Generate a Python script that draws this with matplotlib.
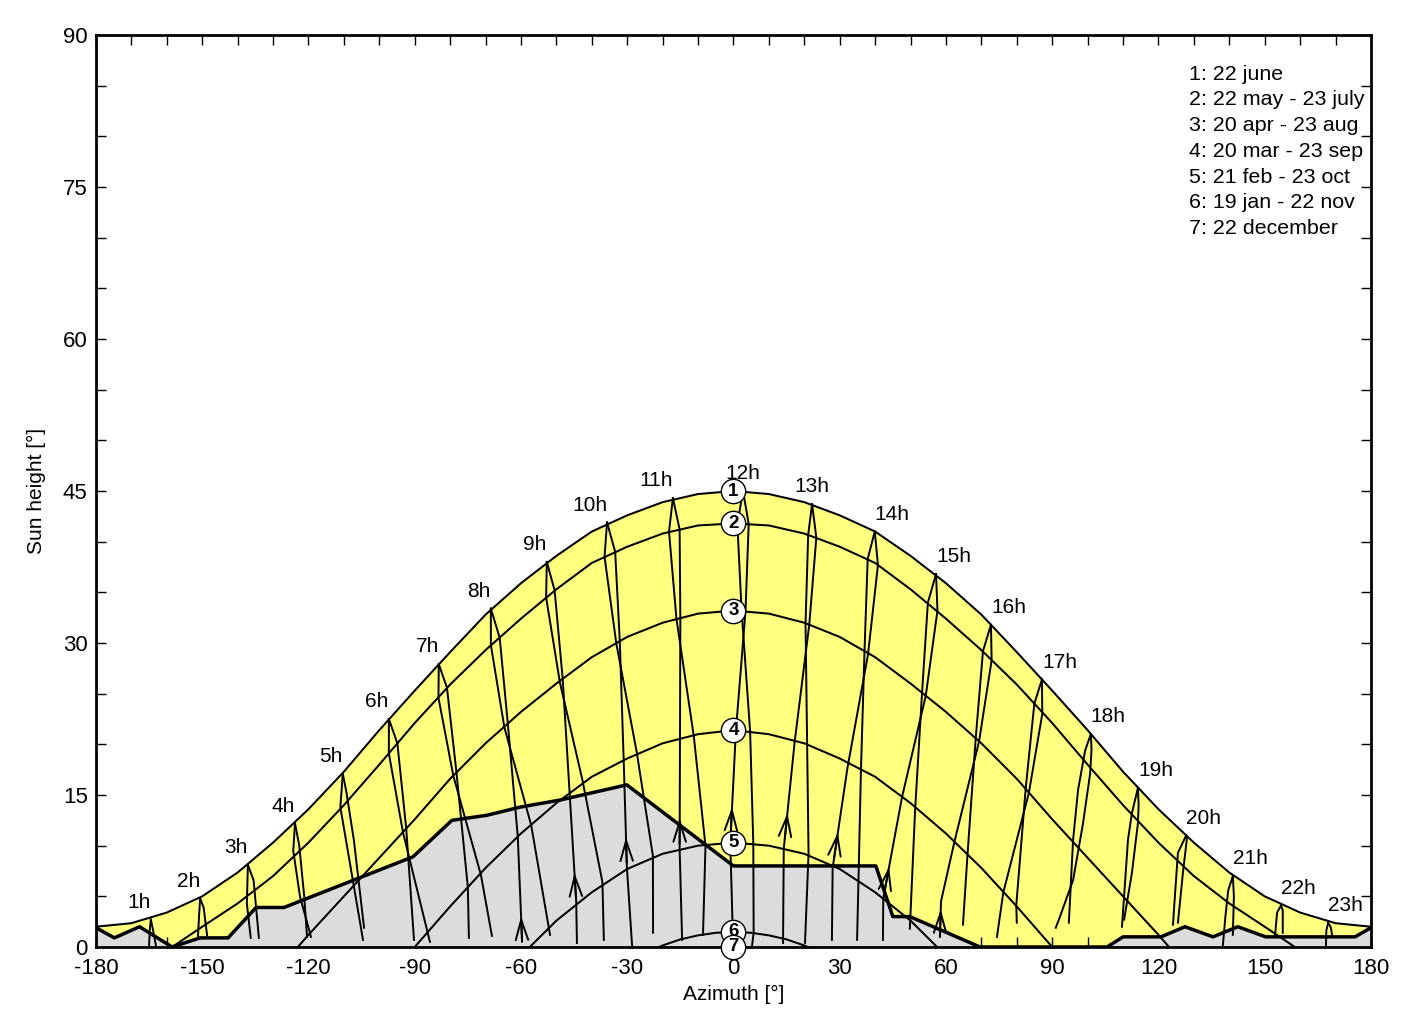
import numpy as np
import matplotlib
matplotlib.use('Agg')
import matplotlib.pyplot as plt
from matplotlib.patches import Polygon

plt.rcParams['font.family'] = ['Liberation Sans', 'DejaVu Sans']
plt.rcParams['axes.unicode_minus'] = False

# sun path per date (azimuth [deg], sun height [deg])
grid = list(range(-180, 181, 10))
c1_alt = [2.0, 2.35, 3.4, 5.0, 7.35, 10.3, 13.6, 17.3, 21.4, 25.3, 29.1, 32.8, 35.9, 38.6, 41.0, 42.6, 43.9, 44.7, 45.0,
          44.7, 43.9, 42.6, 41.0, 38.6, 35.9, 32.8, 29.1, 25.3, 21.4, 17.3, 13.6, 10.3, 7.35, 5.0, 3.4, 2.35, 2.0]
c2_az = [-158.5] + list(range(-150, 151, 10)) + [158.5]
c2_alt = [0, 2.0, 4.3, 7.0, 10.3, 14.0, 18.0, 22.1, 25.9, 29.3, 32.4, 35.3, 37.9, 39.5, 40.8, 41.6, 41.8,
          41.6, 40.8, 39.5, 37.9, 35.3, 32.4, 29.3, 25.9, 22.1, 18.0, 14.0, 10.3, 7.0, 4.3, 2.0, 0]
c3_az = [-123] + list(range(-120, 121, 10)) + [123]
c3_alt = [0, 1.2, 5.0, 8.8, 12.6, 16.6, 20.1, 23.2, 26.0, 28.6, 30.6, 32.0, 32.9, 33.2,
          32.9, 32.0, 30.6, 28.6, 26.0, 23.2, 20.1, 16.6, 12.6, 8.8, 5.0, 1.2, 0]
c4_az = list(range(-90, 91, 10))
c4_alt = [0, 4.0, 7.8, 11.2, 14.2, 16.8, 18.6, 20.1, 21.0, 21.4, 21.0, 20.1, 18.6, 16.8, 14.2, 11.2, 7.8, 4.0, 0]
c5_az = [-57.5, -50, -40, -30, -20, -10, 0, 10, 20, 30, 40, 50, 57.5]
c5_alt = [0, 2.6, 5.4, 7.7, 9.2, 10.0, 10.3, 10.0, 9.2, 7.7, 5.4, 2.6, 0]
c6_az = [-21, -20, -15, -10, -5, 0, 5, 10, 15, 20, 21]
c6_alt = [0, 0.15, 0.75, 1.15, 1.4, 1.5, 1.4, 1.15, 0.75, 0.15, 0]
marker_alt = [45.0, 41.8, 33.2, 21.4, 10.3, 1.5, 0.0]

legend_lines = ['1: 22 june', '2: 22 may - 23 july', '3: 20 apr - 23 aug', '4: 20 mar - 23 sep',
                '5: 21 feb - 23 oct', '6: 19 jan - 22 nov', '7: 22 december']

# horizon profile
hz_az = [-180, -174.8, -167.7, -158.5, -150.6, -142.7, -134.8, -126.9, -90.5, -79.5, -69.6, -60.3, -49.0,
         -30.1, 0.0, 40.2, 45.0, 49.8, 69.6, 105.5, 110.0, 120.7, 127.5, 135.4, 142.4, 150.3, 175.5, 180]
hz_alt = [1.9, 0.9, 2.0, 0.0, 0.9, 0.9, 3.9, 3.9, 8.9, 12.5, 13.0, 13.8, 14.5,
          16.0, 8.0, 8.0, 3.0, 3.0, 0.0, 0.0, 1.0, 1.0, 2.0, 1.0, 2.0, 1.0, 1.0, 1.9]

# hour lines, branch a (jan -> jun, carries the arrows) and branch b (jul -> dec)
branch_a = {
    1: [(-164.5, 2.7), (-164.8, 1.7), (-165.0, 0.2)],
    2: [(-150.6, 4.8), (-150.9, 3.0), (-151.2, 1.0)],
    3: [(-137.1, 8.1), (-137.4, 4.3), (-136.3, 0.9)],
    4: [(-123.8, 12.2), (-122.6, 10.0), (-121.2, 5.0), (-120.4, 1.0)],
    5: [(-110.3, 17.1), (-109.3, 15.3), (-107.2, 10.6), (-104.3, 1.9)],
    6: [(-97.3, 22.5), (-94.9, 20.1), (-92.4, 11.7), (-90.2, 0.7)],
    7: [(-83.2, 27.9), (-80.9, 25.6), (-78.2, 17.2), (-75.0, 5.9), (-74.7, 0.9)],
    8: [(-68.5, 33.4), (-66.0, 30.5), (-63.7, 22.0), (-60.9, 10.9), (-59.7, 0.7)],
    9: [(-52.7, 38.0), (-50.5, 35.2), (-48.2, 26.4), (-46.3, 15.4), (-44.4, 4.5), (-44.2, 0.4)],
    10: [(-35.7, 41.9), (-33.4, 39.0), (-32.1, 30.2), (-31.0, 18.5), (-30.1, 7.9), (-28.6, 0.0)],
    11: [(-17.1, 44.3), (-15.2, 41.2), (-15.0, 32.5), (-15.1, 20.6), (-15.2, 9.7), (-14.5, 0.7)],
    12: [(2.7, 45.0), (4.3, 41.75), (3.4, 33.15), (0.7, 21.4), (-0.9, 10.3), (-0.2, 1.5), (-0.4, 0.0)],
    13: [(22.2, 43.7), (23.4, 40.4), (21.4, 31.8), (17.3, 20.3), (14.2, 9.7), (14.0, 0.4)],
    14: [(39.9, 41.0), (40.8, 37.7), (38.0, 28.9), (32.2, 17.7), (28.0, 7.8), (27.8, 0.7)],
    15: [(57.2, 36.8), (57.6, 33.2), (54.3, 24.8), (47.6, 14.8), (42.3, 4.8), (42.2, 0.7)],
    16: [(72.7, 31.8), (72.9, 28.3), (69.35, 20.3), (62.4, 10.4), (58.6, 4.5), (58.3, 1.0)],
    17: [(87.1, 26.4), (87.2, 23.0), (83.4, 15.2), (76.2, 5.4), (74.4, 1.0)],
    18: [(100.9, 21.0), (101.1, 19.5), (100.7, 17.1), (98.7, 12.2), (95.9, 6.6), (92.2, 3.0), (91.0, 1.9)],
    19: [(114.2, 15.7), (114.4, 14.0), (114.2, 12.2), (112.5, 7.3), (110.3, 2.7)],
    20: [(127.8, 11.0), (128.0, 10.6), (126.9, 7.3), (125.5, 2.4)],
    21: [(141.0, 7.0), (141.3, 5.0), (141.0, 1.2)],
    22: [(154.6, 4.1), (155.1, 3.6), (155.1, 1.4)],
    23: [(167.9, 2.4), (168.7, 1.9), (169.0, 1.2)],
}
branch_b = {
    1: [(-164.5, 2.7), (-163.9, 1.7), (-163.1, 0.2)],
    2: [(-150.6, 4.8), (-149.6, 3.9), (-148.6, 1.1)],
    3: [(-137.1, 8.1), (-135.5, 6.6), (-134.0, 0.9)],
    4: [(-123.8, 12.2), (-124.3, 9.5), (-122.4, 5.0), (-119.3, 1.0)],
    5: [(-110.3, 17.1), (-111.0, 13.8), (-108.6, 8.9), (-104.6, 0.7)],
    6: [(-97.3, 22.5), (-97.3, 19.1), (-93.3, 11.3), (-85.7, 0.5)],
    7: [(-83.2, 27.9), (-83.3, 24.6), (-79.1, 16.9), (-71.3, 7.1), (-68.2, 1.1)],
    8: [(-68.5, 33.4), (-68.5, 29.8), (-64.7, 21.7), (-57.1, 12.0), (-51.8, 1.2)],
    9: [(-52.7, 38.0), (-52.9, 34.5), (-49.0, 26.1), (-42.6, 16.4), (-37.0, 6.4), (-36.6, 0.7)],
    10: [(-35.7, 41.9), (-36.4, 38.5), (-33.1, 30.0), (-27.3, 19.2), (-22.75, 9.0), (-22.7, 1.4)],
    11: [(-17.1, 44.3), (-18.2, 41.0), (-16.1, 32.4), (-11.2, 20.8), (-7.9, 10.0), (-8.6, 1.2)],
    12: [(2.7, 45.0), (1.1, 41.75), (2.3, 33.2), (4.7, 21.3), (5.6, 10.2), (5.7, 1.4), (5.2, 0.0)],
    13: [(22.2, 43.7), (21.1, 40.7), (20.35, 31.9), (20.8, 20.0), (21.2, 9.2), (20.2, 0.4)],
    14: [(39.9, 41.0), (37.9, 38.3), (37.0, 29.2), (36.0, 17.5), (35.3, 6.6), (34.9, 0.7)],
    15: [(57.2, 36.8), (54.9, 34.0), (53.25, 25.1), (51.3, 13.6), (49.8, 1.8)],
    16: [(72.7, 31.8), (70.45, 29.2), (68.4, 20.6), (66.1, 9.2), (64.8, 2.2)],
    17: [(87.1, 26.4), (84.95, 24.0), (82.5, 15.6), (79.85, 4.1), (80.0, 2.4)],
    18: [(100.9, 21.0), (99.3, 19.4), (97.3, 15.5), (95.9, 10.6), (94.7, 2.4)],
    19: [(114.2, 15.7), (112.5, 13.2), (111.4, 10.6), (109.7, 2.0)],
    20: [(127.8, 11.0), (125.5, 9.3), (124.7, 5.3), (124.1, 2.2)],
    21: [(141.0, 7.0), (139.7, 5.6), (138.9, 3.0), (138.2, 0.2)],
    22: [(154.6, 4.1), (153.5, 3.4), (152.9, 1.1)],
    23: [(167.9, 2.4), (167.4, 1.6), (167.3, 0.2)],
}
# sun height of the arrow tip on branch a
arrow_tip = {8: 3.0, 9: 7.3, 10: 10.8, 11: 12.7, 12: 13.8, 13: 13.2, 14: 11.3, 15: 7.9, 16: 3.7}

fig = plt.figure(figsize=(14.26, 10.24), dpi=100)
ax = fig.add_axes([0.0673, 0.0752, 0.8941, 0.8906])

# yellow: possible sun positions above the horizon, grey: horizon mask
sky = list(zip(grid, c1_alt)) + list(zip(hz_az, hz_alt))[::-1]
ax.add_patch(Polygon(sky, closed=True, facecolor='#ffff80', edgecolor='none', zorder=1))
mask = list(zip(hz_az, hz_alt)) + [(180, 0), (-180, 0)]
ax.add_patch(Polygon(mask, closed=True, facecolor='#dcdcdc', edgecolor='none', zorder=2))

for az, alt in [(grid, c1_alt), (c2_az, c2_alt), (c3_az, c3_alt), (c4_az, c4_alt), (c5_az, c5_alt), (c6_az, c6_alt)]:
    ax.plot(az, alt, color='black', lw=1.45, zorder=3)

for h in branch_a:
    for pts in (branch_a[h], branch_b[h]):
        az, alt = zip(*pts)
        ax.plot(az, alt, color='black', lw=1.4, zorder=3, solid_joinstyle='round')

for h, tip in arrow_tip.items():
    az, alt = zip(*branch_a[h])
    x_tip = np.interp(tip, alt[::-1], az[::-1])
    x_tail = np.interp(tip - 2.5, alt[::-1], az[::-1])
    ax.annotate('', xy=(x_tip, tip), xytext=(x_tail, tip - 2.5), zorder=4,
                arrowprops=dict(arrowstyle='->,head_length=1.45,head_width=0.45', color='black', lw=1.4,
                                shrinkA=0, shrinkB=0))

ax.plot(hz_az, hz_alt, color='black', lw=2.5, zorder=4)

for h in branch_a:
    az, alt = branch_a[h][0]
    ha = 'right' if h < 12 else ('center' if h < 14 else 'left')
    ax.annotate(f'{h}h', xy=(az, alt), xytext=(0, 8.5), textcoords='offset points',
                ha=ha, va='baseline', fontsize=15, zorder=5)

for i, alt in enumerate(marker_alt):
    ax.plot(0, alt, 'o', ms=17.5, mfc='white', mec='black', mew=1.0, zorder=6, clip_on=False)
    ax.text(0, alt, str(i + 1), ha='center', va='center', fontsize=13.5, fontweight='bold', zorder=7, clip_on=False)

for i, line in enumerate(legend_lines):
    ax.text(0.857, 0.951 - i * 0.0282, line, transform=ax.transAxes, ha='left', va='baseline', fontsize=15.4)

ax.set_xlim(-180, 180)
ax.set_ylim(0, 90)
ax.set_xticks(range(-180, 181, 30))
ax.set_xticks(range(-180, 181, 10), minor=True)
ax.set_yticks(range(0, 91, 15))
ax.set_yticks(range(0, 91, 5), minor=True)
ax.tick_params(which='both', direction='in', top=True, right=True, length=7, width=1, labelsize=16)
ax.tick_params(axis='x', pad=8)
ax.tick_params(axis='y', pad=6)
for s in ax.spines.values():
    s.set_linewidth(2)
ax.set_xlabel('Azimuth [°]', fontsize=15, labelpad=4)
ax.set_ylabel('Sun height [°]', fontsize=15, labelpad=12)

fig.savefig('out.png', dpi=100)
